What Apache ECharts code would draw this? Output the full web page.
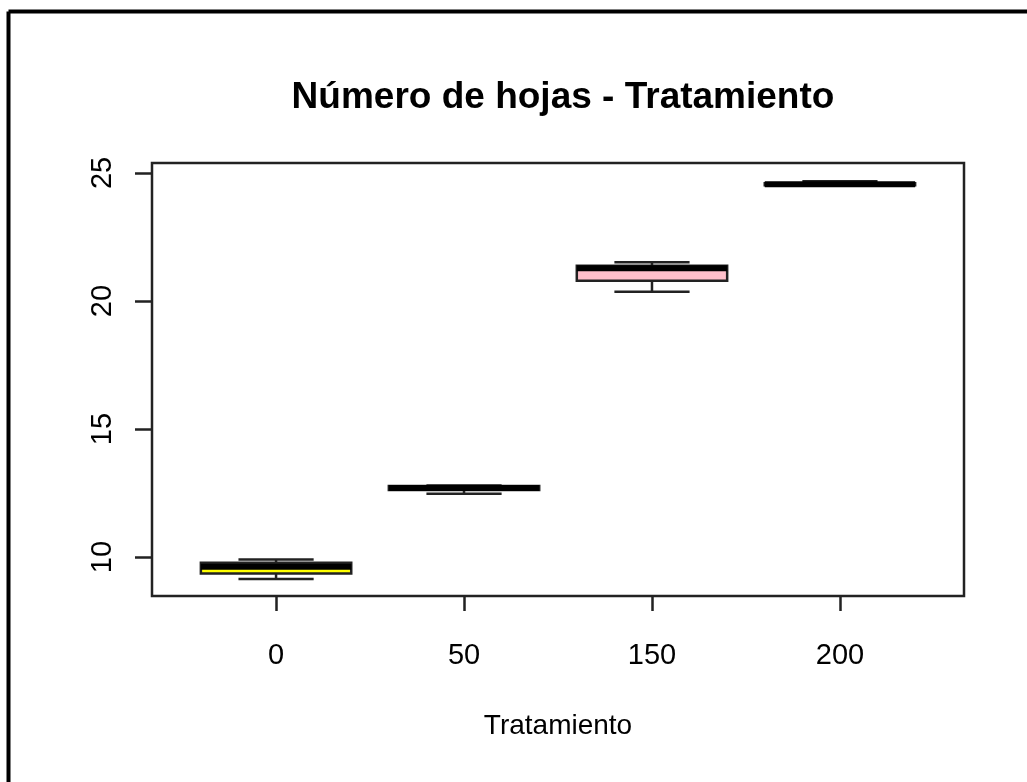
<!DOCTYPE html>
<html>
<head>
<meta charset="utf-8">
<script src="https://cdn.jsdelivr.net/npm/echarts@6/dist/echarts.min.js"></script>
<style>
html,body{margin:0;padding:0;background:#fff;}
#c{width:1027px;height:782px;}
</style>
</head>
<body>
<div id="c"></div>
<script>
const categories = ['0', '50', '150', '200'];
const lowerWhisker = [9.14, 12.47, 20.36, 24.52];
const q1 = [9.36, 12.62, 20.79, 24.52];
const median = [9.62, 12.70, 21.28, 24.56];
const q3 = [9.78, 12.78, 21.38, 24.60];
const upperWhisker = [9.91, 12.80, 21.51, 24.68];
const fills = ['#FFFF00', '#90EE90', '#FFC0CB', '#ADD8E6'];
const yTicks = [10, 15, 20, 25];

const chart = echarts.init(document.getElementById('c'));
const data = categories.map((c, i) => [i + 1, lowerWhisker[i], q1[i], median[i], q3[i], upperWhisker[i]]);

chart.setOption({
  animation: false,
  backgroundColor: '#fff',
  title: {
    text: 'Número de hojas - Tratamiento',
    left: 558, top: 74, textAlign: 'center',
    textStyle: {fontFamily: 'Liberation Sans', fontWeight: 'bold', fontSize: 37, color: '#000'}
  },
  graphic: [
    {type: 'line', shape: {x1: 8.5, y1: 11.5, x2: 1030, y2: 11.5}, style: {stroke: '#000', lineWidth: 4}},
    {type: 'line', shape: {x1: 8.5, y1: 11.5, x2: 8.5, y2: 790}, style: {stroke: '#000', lineWidth: 4}}
  ],
  grid: {left: 152, right: 63, top: 163, bottom: 186, show: true, borderColor: '#222', borderWidth: 2.5, backgroundColor: 'transparent'},
  xAxis: {
    type: 'value', min: 0.34, max: 4.66,
    splitLine: {show: false},
    axisLine: {show: false},
    axisTick: {show: true, length: 15, lineStyle: {color: '#222', width: 2.5}, customValues: [1, 2, 3, 4]},
    axisLabel: {customValues: [1, 2, 3, 4], formatter: v => categories[Math.round(v) - 1], margin: 45,
      fontFamily: 'Liberation Sans', fontSize: 29, color: '#000'},
    name: 'Tratamiento', nameLocation: 'middle', nameGap: 116,
    nameTextStyle: {fontFamily: 'Liberation Sans', fontSize: 28, color: '#000'}
  },
  yAxis: {
    type: 'value', min: 8.48, max: 25.39,
    splitLine: {show: false},
    axisLine: {show: false},
    axisTick: {show: true, length: 17, lineStyle: {color: '#222', width: 2.5}, customValues: yTicks},
    axisLabel: {customValues: yTicks, rotate: 90, margin: 35,
      fontFamily: 'Liberation Sans', fontSize: 29, color: '#000'}
  },
  series: [{
    type: 'custom',
    data: data,
    renderItem: function (params, api) {
      const x = api.value(0);
      const i = params.dataIndex;
      const w = api.size([0.8, 0])[0];
      const cw = api.size([0.4, 0])[0];
      const pl = api.coord([x, api.value(1)]);
      const p1 = api.coord([x, api.value(2)]);
      const pm = api.coord([x, api.value(3)]);
      const p3 = api.coord([x, api.value(4)]);
      const pu = api.coord([x, api.value(5)]);
      const cx = pl[0];
      const ls = {stroke: '#222', lineWidth: 2.5};
      return {
        type: 'group',
        children: [
          {type: 'line', shape: {x1: cx, y1: pu[1], x2: cx, y2: p3[1]}, style: ls},
          {type: 'line', shape: {x1: cx, y1: p1[1], x2: cx, y2: pl[1]}, style: ls},
          {type: 'line', shape: {x1: cx - cw / 2, y1: pu[1], x2: cx + cw / 2, y2: pu[1]}, style: ls},
          {type: 'line', shape: {x1: cx - cw / 2, y1: pl[1], x2: cx + cw / 2, y2: pl[1]}, style: ls},
          {type: 'rect', shape: {x: cx - w / 2, y: p3[1], width: w, height: p1[1] - p3[1]},
            style: {fill: fills[i], stroke: '#222', lineWidth: 2.5}},
          {type: 'line', shape: {x1: cx - w / 2, y1: pm[1], x2: cx + w / 2, y2: pm[1]},
            style: {stroke: '#000', lineWidth: 6}}
        ]
      };
    }
  }]
});
</script>
</body>
</html>
